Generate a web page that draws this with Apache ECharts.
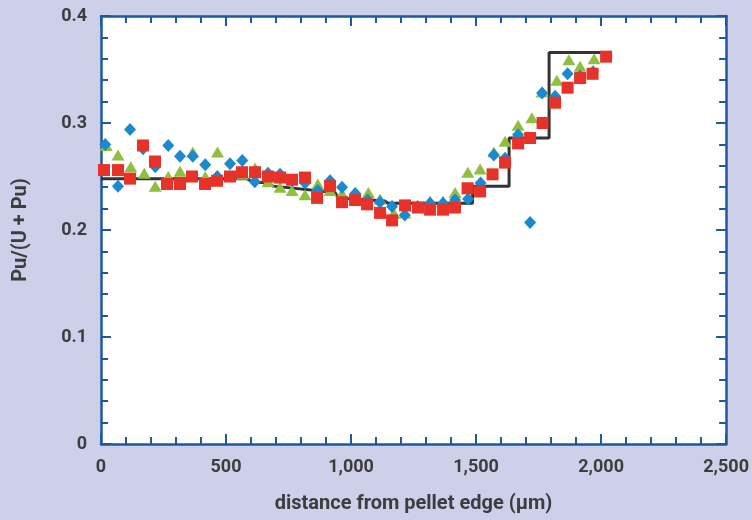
<!DOCTYPE html>
<html>
<head>
<meta charset="utf-8">
<script src="https://cdn.jsdelivr.net/npm/echarts@6/dist/echarts.min.js"></script>
<style>
  html, body { margin: 0; padding: 0; background: #cdd0e8; }
  #chart { width: 752px; height: 520px; }
</style>
</head>
<body>
<div id="chart"></div>
<script>
"use strict";

// measured profile, Pu/(U+Pu) vs distance from pellet edge (µm)
var blueX = [17, 68, 116, 168, 217, 269, 316, 367, 417, 465, 516, 565, 615, 668, 716, 766, 816, 867, 916, 964,
  1017, 1066, 1116, 1164, 1215, 1266, 1316, 1368, 1416, 1468, 1518, 1571, 1616, 1668, 1716, 1764, 1816, 1866, 1916, 1968];
var blueY = [0.280, 0.241, 0.294, 0.276, 0.259, 0.279, 0.269, 0.269, 0.261, 0.250, 0.262, 0.265, 0.245, 0.253, 0.252, 0.246, 0.244, 0.237, 0.246, 0.240,
  0.234, 0.228, 0.226, 0.222, 0.214, 0.222, 0.225, 0.225, 0.228, 0.229, 0.244, 0.270, 0.267, 0.289, 0.207, 0.328, 0.325, 0.346, 0.344, 0.348];

var greenX = [21, 68, 119, 173, 217, 269, 316, 367, 417, 466, 516, 566, 616, 668, 716, 764, 816, 867, 916, 964,
  1017, 1069, 1116, 1171, 1215, 1266, 1316, 1368, 1416, 1467, 1516, 1571, 1616, 1668, 1723, 1764, 1823, 1871, 1916, 1972];
var greenY = [0.279, 0.270, 0.259, 0.253, 0.241, 0.250, 0.255, 0.273, 0.250, 0.273, 0.250, 0.252, 0.258, 0.245, 0.240, 0.237, 0.233, 0.243, 0.237, 0.234,
  0.232, 0.235, 0.229, 0.216, 0.216, 0.222, 0.227, 0.227, 0.235, 0.254, 0.257, 0.273, 0.283, 0.298, 0.305, 0.329, 0.340, 0.359, 0.353, 0.360];

var redX = [12, 68, 116, 168, 216, 264, 316, 364, 416, 464, 516, 564, 616, 668, 716, 764, 816, 864, 916, 964,
  1016, 1064, 1116, 1164, 1216, 1268, 1316, 1368, 1416, 1466, 1516, 1566, 1616, 1668, 1716, 1766, 1816, 1866, 1916, 1966, 2020];
var redY = [0.256, 0.256, 0.248, 0.279, 0.264, 0.243, 0.243, 0.250, 0.243, 0.246, 0.250, 0.254, 0.254, 0.250, 0.249, 0.247, 0.249, 0.230, 0.241, 0.226,
  0.228, 0.224, 0.216, 0.209, 0.223, 0.221, 0.219, 0.219, 0.221, 0.239, 0.236, 0.252, 0.263, 0.281, 0.286, 0.300, 0.319, 0.333, 0.342, 0.346, 0.362];

// model step profile
var stepX = [0, 584, 604, 668, 688, 936, 948, 1136, 1148, 1486, 1486, 1632, 1632, 1792, 1792, 1999];
var stepY = [0.248, 0.248, 0.245, 0.244, 0.241, 0.235, 0.230, 0.227, 0.225, 0.225, 0.241, 0.241, 0.286, 0.286, 0.366, 0.366];

function pairs(xs, ys) {
  return xs.map(function (x, i) { return [x, ys[i]]; });
}

var frame = "#1d5a9c";
var textColor = "#3d3d3d";
var font = "Roboto";

var chart = echarts.init(document.getElementById("chart"));

function frameAxis(extra) {
  var base = {
    type: "value",
    axisLine: { show: true, onZero: false, lineStyle: { color: frame, width: 2.5 } },
    axisTick: { show: true, inside: true, length: 10, lineStyle: { color: frame, width: 2 } },
    minorTick: { show: true, splitNumber: 5, length: 7, lineStyle: { color: frame, width: 2 } },
    splitLine: { show: false },
    minorSplitLine: { show: false },
  };
  return Object.assign(base, extra);
}

chart.setOption({
  backgroundColor: "#cdd0e8",
  animation: false,
  grid: {
    left: 101,
    right: 25,
    top: 16,
    bottom: 76,
    show: true,
    backgroundColor: "#ffffff",
    borderWidth: 0,
  },
  xAxis: [
    frameAxis({
      min: 0,
      max: 2500,
      interval: 500,
      position: "bottom",
      name: "distance from pellet edge (\u03bcm)",
      nameLocation: "middle",
      nameGap: 50,
      nameTextStyle: { color: textColor, fontFamily: font, fontWeight: "bold", fontSize: 20 },
      axisLabel: {
        color: textColor,
        fontFamily: font,
        fontWeight: "bold",
        fontSize: 18,
        margin: 14,
        formatter: function (v) { return v.toLocaleString("en-US"); },
      },
    }),
    frameAxis({
      min: 0,
      max: 2500,
      interval: 500,
      position: "top",
      axisLabel: { show: false },
    }),
  ],
  yAxis: [
    frameAxis({
      min: 0,
      max: 0.4,
      interval: 0.1,
      position: "left",
      name: "Pu/(U + Pu)",
      nameLocation: "middle",
      nameGap: 70,
      nameTextStyle: { color: textColor, fontFamily: font, fontWeight: "bold", fontSize: 20 },
      axisLabel: {
        color: textColor,
        fontFamily: font,
        fontWeight: "bold",
        fontSize: 18,
        margin: 14,
        formatter: function (v) { return v === 0 ? "0" : v.toFixed(1); },
      },
    }),
    frameAxis({
      min: 0,
      max: 0.4,
      interval: 0.1,
      position: "right",
      axisLabel: { show: false },
    }),
  ],
  series: [
    {
      name: "model",
      type: "line",
      data: pairs(stepX, stepY),
      symbol: "none",
      lineStyle: { color: "#333333", width: 3 },
      z: 1,
    },
    {
      name: "green",
      type: "scatter",
      data: pairs(greenX, greenY),
      symbol: "triangle",
      symbolSize: [13, 11],
      itemStyle: { color: "#8fbf3f", opacity: 1 },
      z: 2,
    },
    {
      name: "blue",
      type: "scatter",
      data: pairs(blueX, blueY),
      symbol: "diamond",
      symbolSize: [12, 13],
      itemStyle: { color: "#1a8ad0", opacity: 1 },
      z: 3,
    },
    {
      name: "red",
      type: "scatter",
      data: pairs(redX, redY),
      symbol: "rect",
      symbolSize: 12,
      itemStyle: { color: "#e63228", opacity: 1 },
      z: 4,
    },
  ],
});
</script>
</body>
</html>
